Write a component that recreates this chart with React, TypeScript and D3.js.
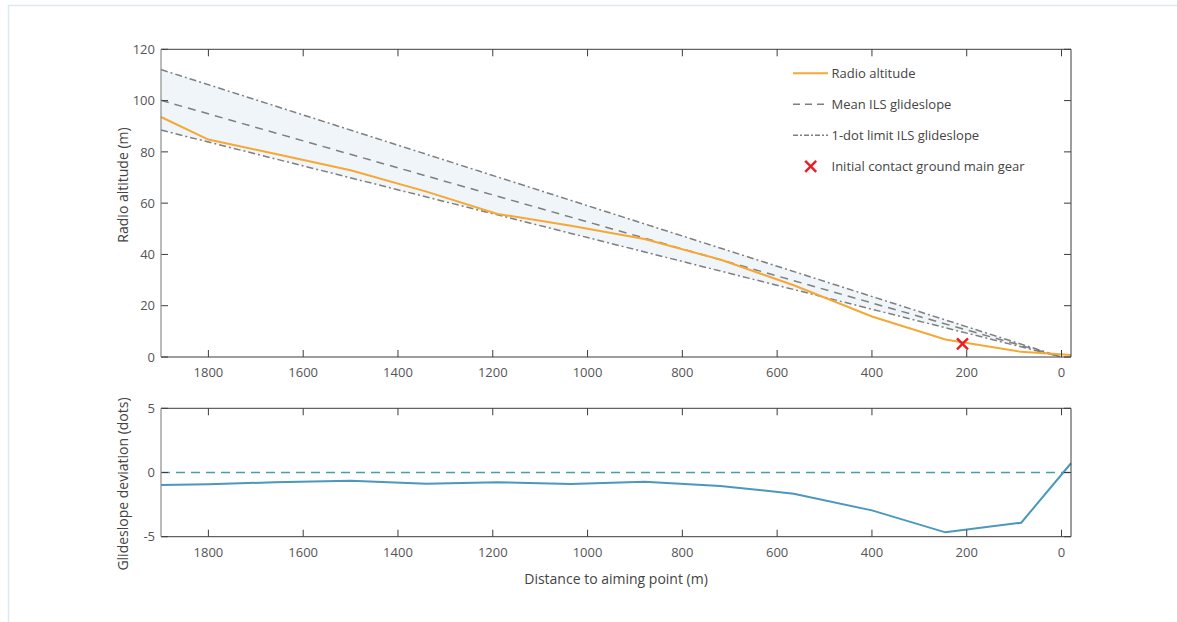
import * as d3 from "d3";

// distance to aiming point (m), read at the polyline breakpoints
const distances = [1900, 1800, 1660, 1500, 1340, 1190, 1035, 880, 720, 565, 400, 245, 85, -20];
const radioAltitude = [93.6, 84.8, 79.3, 72.8, 64.5, 55.8, 51.2, 46, 38, 28, 15.8, 6.8, 2, 0.8];
const deviation = [-0.97, -0.92, -0.76, -0.64, -0.87, -0.76, -0.9, -0.72, -1.05, -1.65, -2.95, -4.66, -3.91, 0.72];

// glideslope lines (straight, two ends)
const glideDistances = [1900, 0];
const meanGlideslope = [100.1, 0];
const upperLimit = [112.1, 0];
const lowerLimit = [88.5, 0];

const contactPoint = { distance: 209, altitude: 5.1 };

const xTicks = [1800, 1600, 1400, 1200, 1000, 800, 600, 400, 200, 0];
const altTicks = [0, 20, 40, 60, 80, 100, 120];
const devTicks = [-5, 0, 5];

const legendItems = [
  { label: "Radio altitude", kind: "solid" },
  { label: "Mean ILS glideslope", kind: "dash" },
  { label: "1-dot limit ILS glideslope", kind: "dashdot" },
  { label: "Initial contact ground main gear", kind: "cross" },
];

const W = 1177;
const H = 622;
const FONT = "'Open Sans', Lato, sans-serif";
const ORANGE = "#f5a833";
const GREY = "#7f7f7f";
const BLUE = "#4a98bd";
const RED = "#ec1c24";
const AXIS = "#3c3c3c";
const TICK_TEXT = "#555";
const TICK = 7;

const left = 161;
const right = 1071;

export default function App() {
  const x = d3.scaleLinear().domain([1900, -20]).range([left, right]);
  const yAlt = d3.scaleLinear().domain([0, 120]).range([357, 49.3]);
  const yDev = d3.scaleLinear().domain([-5, 5]).range([536.7, 408.3]);

  const altLine = d3
    .line<number>()
    .x((_, i) => x(distances[i]))
    .y((d) => yAlt(d));
  const glideLine = d3
    .line<number>()
    .x((_, i) => x(glideDistances[i]))
    .y((d) => yAlt(d));
  const band = d3
    .area<number>()
    .x((_, i) => x(glideDistances[i]))
    .y0((_, i) => yAlt(lowerLimit[i]))
    .y1((d) => yAlt(d));
  const devLine = d3
    .line<number>()
    .x((_, i) => x(distances[i]))
    .y((d) => yDev(d));

  const cross = (cx: number, cy: number, r: number) => (
    <g stroke={RED} strokeWidth={2.4} strokeLinecap="butt">
      <line x1={cx - r} y1={cy - r} x2={cx + r} y2={cy + r} />
      <line x1={cx - r} y1={cy + r} x2={cx + r} y2={cy - r} />
    </g>
  );

  const box = (y0: number, y1: number, yTicks: number[], yScale: d3.ScaleLinear<number, number>) => (
    <g>
      {/* x ticks top & bottom */}
      {xTicks.map((t) => (
        <g key={t} stroke={AXIS} strokeWidth={1}>
          <line x1={x(t)} x2={x(t)} y1={y1} y2={y1 - TICK} />
          <line x1={x(t)} x2={x(t)} y1={y0} y2={y0 + TICK} />
        </g>
      ))}
      {yTicks.map((t) => (
        <g key={t} stroke={AXIS} strokeWidth={1}>
          <line x1={left} x2={left + TICK} y1={yScale(t)} y2={yScale(t)} />
          <line x1={right} x2={right - TICK} y1={yScale(t)} y2={yScale(t)} />
        </g>
      ))}
      <line x1={left} x2={right} y1={y0} y2={y0} stroke={AXIS} />
      <line x1={right} x2={right} y1={y0} y2={y1} stroke={AXIS} />
      <line x1={left} x2={right} y1={y1} y2={y1} stroke={AXIS} />
      <line x1={left} x2={left} y1={y0} y2={y1} stroke="#8c8c8c" strokeWidth={1.2} />
      {yTicks.map((t) => (
        <text key={t} x={155} y={yScale(t)} dy="0.36em" textAnchor="end" fontSize={13} fill={TICK_TEXT}>
          {t}
        </text>
      ))}
    </g>
  );

  return (
    <div style={{ position: "absolute", left: 0, top: 0 }}>
      <svg width={W} height={H} fontFamily={FONT} style={{ display: "block", background: "#fff" }}>
        {/* page frame */}
        <line x1={8.5} x2={8.5} y1={5} y2={H} stroke="#dce9f0" strokeWidth={1.5} />
        <line x1={8} x2={W} y1={5.5} y2={5.5} stroke="#dce9f0" strokeWidth={1.5} />

        {/* upper chart */}
        <path d={band(upperLimit) ?? ""} fill="#f0f5f9" />
        <path d={glideLine(upperLimit) ?? ""} fill="none" stroke={GREY} strokeWidth={1.5} strokeDasharray="7 3 2 3" />
        <path d={glideLine(lowerLimit) ?? ""} fill="none" stroke={GREY} strokeWidth={1.5} strokeDasharray="7 3 2 3" />
        <path d={glideLine(meanGlideslope) ?? ""} fill="none" stroke={GREY} strokeWidth={1.5} strokeDasharray="8 6" />
        <path d={altLine(radioAltitude) ?? ""} fill="none" stroke={ORANGE} strokeWidth={2} />
        {cross(x(contactPoint.distance), yAlt(contactPoint.altitude), 5.5)}
        {box(yAlt(120), yAlt(0), altTicks, yAlt)}
        {xTicks.map((t) => (
          <text key={t} x={x(t)} y={377} textAnchor="middle" fontSize={13} fill={TICK_TEXT}>
            {t}
          </text>
        ))}
        <text transform={`translate(128,185) rotate(-90)`} textAnchor="middle" fontSize={14} fill="#444">
          Radio altitude (m)
        </text>

        {/* legend */}
        {legendItems.map((item, i) => {
          const ly = 73.3 + i * 31;
          return (
            <g key={item.label}>
              {item.kind === "solid" && <line x1={793} x2={828} y1={ly} y2={ly} stroke={ORANGE} strokeWidth={2} />}
              {item.kind === "dash" && (
                <line x1={793} x2={828} y1={ly} y2={ly} stroke={GREY} strokeWidth={1.5} strokeDasharray="7 5" />
              )}
              {item.kind === "dashdot" && (
                <line x1={793} x2={828} y1={ly} y2={ly} stroke={GREY} strokeWidth={1.5} strokeDasharray="5 2 2 2" />
              )}
              {item.kind === "cross" && cross(810.7, ly, 5.5)}
              <text x={831.5} y={ly} dy="0.36em" fontSize={13} fill="#444">
                {item.label}
              </text>
            </g>
          );
        })}

        {/* lower chart */}
        <line x1={left} x2={right} y1={yDev(0)} y2={yDev(0)} stroke={BLUE} strokeWidth={1.5} strokeDasharray="9 6" />
        <path d={devLine(deviation) ?? ""} fill="none" stroke={BLUE} strokeWidth={2} />
        {box(yDev(5), yDev(-5), devTicks, yDev)}
        {xTicks.map((t) => (
          <text key={t} x={x(t)} y={557} textAnchor="middle" fontSize={13} fill={TICK_TEXT}>
            {t}
          </text>
        ))}
        <text transform={`translate(128,484) rotate(-90)`} textAnchor="middle" fontSize={14} fill="#444">
          Glideslope deviation (dots)
        </text>
        <text x={616} y={584} textAnchor="middle" fontSize={14} fill="#444">
          Distance to aiming point (m)
        </text>
      </svg>
    </div>
  );
}
